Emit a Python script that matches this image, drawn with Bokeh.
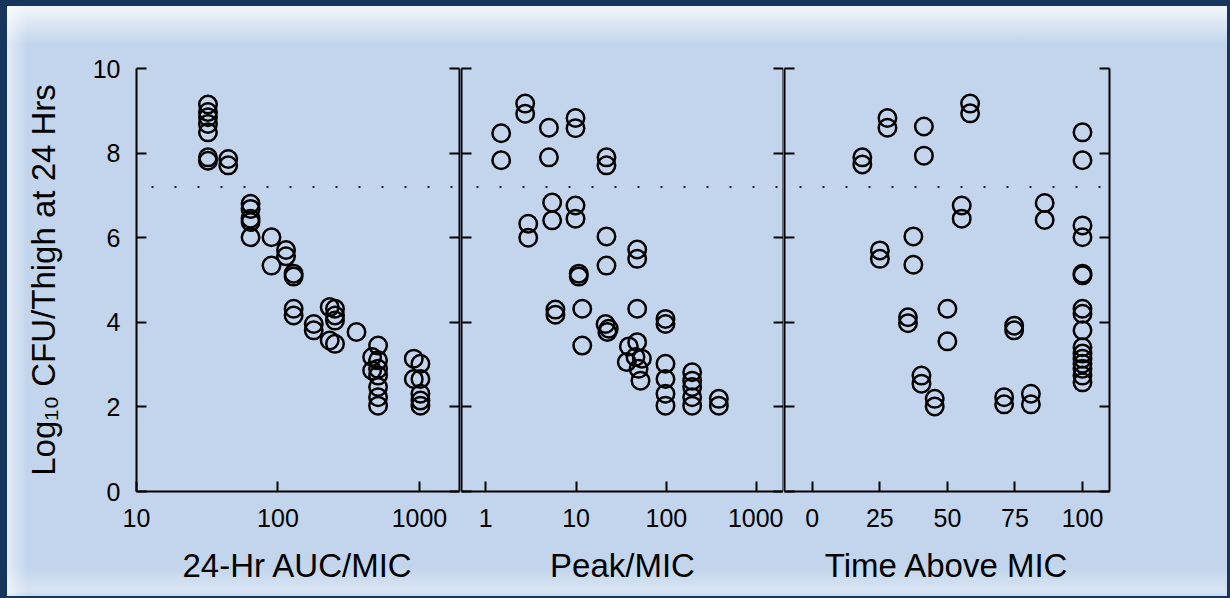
from bokeh.plotting import figure
from bokeh.layouts import row, column
from bokeh.models import (Range1d, FixedTicker, LinearAxis, CustomJSTickFormatter,
                          Span, Spacer, ColumnDataSource)
from bokeh.embed import file_html
from bokeh.resources import INLINE

# ---------------- data ----------------
auc_x = [32, 32, 32, 32, 32, 32, 32, 44.5, 44.5, 64, 64, 64, 64, 64, 90, 90, 114, 114,
         129, 129, 129, 129, 179, 179, 232, 232, 253, 253, 253, 253, 359, 463, 463,
         510, 510, 510, 510, 510, 510, 510, 912, 912, 1016, 1016, 1016, 1016, 1016]
auc_y = [9.15, 8.97, 8.85, 8.69, 8.49, 7.90, 7.82, 7.86, 7.71, 6.80, 6.68, 6.45, 6.37, 6.01,
         6.01, 5.34, 5.71, 5.56, 5.15, 5.08, 4.32, 4.16, 3.96, 3.81, 4.36, 3.57,
         4.32, 4.16, 4.04, 3.49, 3.77, 3.18, 2.86, 3.45, 3.10, 2.90, 2.74, 2.47, 2.23, 2.03,
         3.14, 2.66, 3.02, 2.66, 2.31, 2.15, 2.03]

peak_x = [1.48, 1.48, 2.73, 2.73, 2.95, 2.95, 5.0, 5.0, 5.43, 5.43, 5.9, 5.9,
          9.85, 9.85, 9.85, 9.85, 10.7, 10.7, 11.7, 11.7, 21.7, 21.7, 21.7, 21.7,
          21.2, 23, 22.2, 47.5, 47.5, 47.5, 47.5, 38.4, 36.4, 45.5, 53.5, 49.2, 51.7,
          97.7, 97.7, 97.7, 97.7, 97.7, 97.7, 193, 193, 193, 193, 193, 381, 381]
peak_y = [8.47, 7.83, 9.17, 8.93, 6.33, 6.00, 8.60, 7.90, 6.83, 6.41, 4.30, 4.18,
          8.83, 8.59, 6.76, 6.45, 5.15, 5.08, 4.32, 3.45, 7.90, 7.71, 6.03, 5.34,
          3.96, 3.85, 3.77, 5.72, 5.50, 4.32, 3.53, 3.43, 3.06, 3.18, 3.14, 2.90, 2.62,
          4.08, 3.96, 3.02, 2.66, 2.31, 2.03, 2.82, 2.62, 2.47, 2.23, 2.03, 2.19, 2.03]

tam_x = [18.5, 18.5, 27.8, 27.8, 41.3, 41.3, 58.4, 58.4, 55.3, 55.3, 86, 86, 25, 25,
         37.4, 37.4, 35.4, 35.4, 50, 50, 74.7, 74.7, 40.4, 40.4, 45.3, 45.3, 71, 71,
         80.9, 80.9, 100, 100, 100, 100, 100, 100, 100, 100, 100, 100, 100, 100, 100,
         100, 100, 100]
tam_y = [7.90, 7.73, 8.83, 8.60, 8.63, 7.94, 9.17, 8.94, 6.76, 6.45, 6.82, 6.42, 5.70, 5.50,
         6.03, 5.36, 4.12, 3.98, 4.32, 3.55, 3.92, 3.81, 2.74, 2.55, 2.19, 2.01, 2.23, 2.06,
         2.31, 2.06, 8.49, 7.83, 6.29, 6.01, 5.15, 5.11, 4.32, 4.20, 3.81, 3.41, 3.26,
         3.14, 3.02, 2.90, 2.74, 2.58]

y_ticks = [0, 2, 4, 6, 8, 10]
auc_ticks = [10, 100, 1000]
peak_ticks = [1, 10, 100, 1000]
tam_ticks = [0, 25, 50, 75, 100]
stasis_level = 7.2

y_label = "Log\u2081\u2080 CFU/Thigh at 24 Hrs"
x_labels = ["24-Hr AUC/MIC", "Peak/MIC", "Time Above MIC"]

# ---------------- style ----------------
FONT = "Liberation Sans"
FRAME_H = 423
TOP = 62
BOTTOM = 105
TICK_FS = "25px"
LABEL_FS = "33px"

num_fmt = CustomJSTickFormatter(code="return String(tick);")


def blank_fmt():
    return CustomJSTickFormatter(code="return '';")


def style_axis(ax, labels=True):
    ax.axis_line_width = 2
    ax.axis_line_color = "black"
    ax.major_tick_line_width = 2
    ax.major_tick_line_color = "black"
    ax.major_tick_in = 10
    ax.major_tick_out = 0
    ax.minor_tick_line_color = None
    ax.major_label_text_font = FONT
    ax.major_label_text_font_size = TICK_FS
    ax.major_label_text_color = "black"
    ax.axis_label_text_font = FONT
    ax.axis_label_text_font_size = LABEL_FS
    ax.axis_label_text_font_style = "normal"
    ax.axis_label_text_color = "black"
    if not labels:
        ax.formatter = blank_fmt()
        ax.major_label_standoff = 0


def make_panel(xs, ys, x_type, x_range, x_ticks, x_label, frame_w, left, right, ylab):
    p = figure(width=frame_w + left + right, height=FRAME_H + TOP + BOTTOM,
               frame_width=frame_w, frame_height=FRAME_H,
               x_axis_type=x_type, x_range=Range1d(*x_range), y_range=Range1d(0, 10),
               output_backend="svg", toolbar_location=None,
               min_border_left=left, min_border_right=right,
               min_border_top=TOP, min_border_bottom=BOTTOM)
    p.background_fill_alpha = 0
    p.border_fill_alpha = 0
    p.outline_line_color = None
    p.grid.visible = False

    # x axis
    xa = p.xaxis[0]
    style_axis(xa)
    xa.ticker = FixedTicker(ticks=x_ticks)
    xa.formatter = num_fmt
    xa.major_label_standoff = 17
    xa.axis_label = x_label
    xa.axis_label_standoff = 17

    # left y axis
    ya = p.yaxis[0]
    ya.ticker = FixedTicker(ticks=y_ticks)
    if ylab:
        style_axis(ya)
        ya.major_label_standoff = 16
        ya.axis_label = y_label
        ya.axis_label_standoff = 28
    else:
        style_axis(ya, labels=False)

    # right spine with ticks
    ra = LinearAxis(ticker=FixedTicker(ticks=y_ticks))
    style_axis(ra, labels=False)
    p.add_layout(ra, "right")

    # dotted reference line
    p.add_layout(Span(location=stasis_level, dimension="width", line_color="#222222",
                      line_width=2, line_dash="2 21", line_dash_offset=8))

    src = ColumnDataSource(dict(x=xs, y=ys))
    p.scatter("x", "y", source=src, marker="circle", size=17.5, fill_color=None,
              line_color="black", line_width=2.5)
    return p


p1 = make_panel(auc_x, auc_y, "log", (10, 1919), auc_ticks, x_labels[0], 323, 129, 1, True)
p2 = make_panel(peak_x, peak_y, "log", (0.538, 1982), peak_ticks, x_labels[1], 322, 1, 0, False)
p3 = make_panel(tam_x, tam_y, "linear", (-10.3, 110), tam_ticks, x_labels[2], 325, 1, 118, False)

bg = ("linear-gradient(to bottom, rgba(255,255,255,0.8) 0px, rgba(255,255,255,0) 38px, "
      "rgba(255,255,255,0) 560px, rgba(255,255,255,0.35) 585px, rgba(255,255,255,0.1) 590px), "
      "linear-gradient(to right, rgba(255,255,255,0.55) 0px, rgba(255,255,255,0) 20px), #c2d5ec")

inner = row(p1, p2, p3, styles={"background": bg})
middle = row(Spacer(width=7, height=590), inner, Spacer(width=3, height=590))
layout = column(Spacer(width=1230, height=6), middle, Spacer(width=1230, height=2),
                styles={"background-color": "#17365d"})

open("out.html", "w").write(file_html(layout, INLINE))
